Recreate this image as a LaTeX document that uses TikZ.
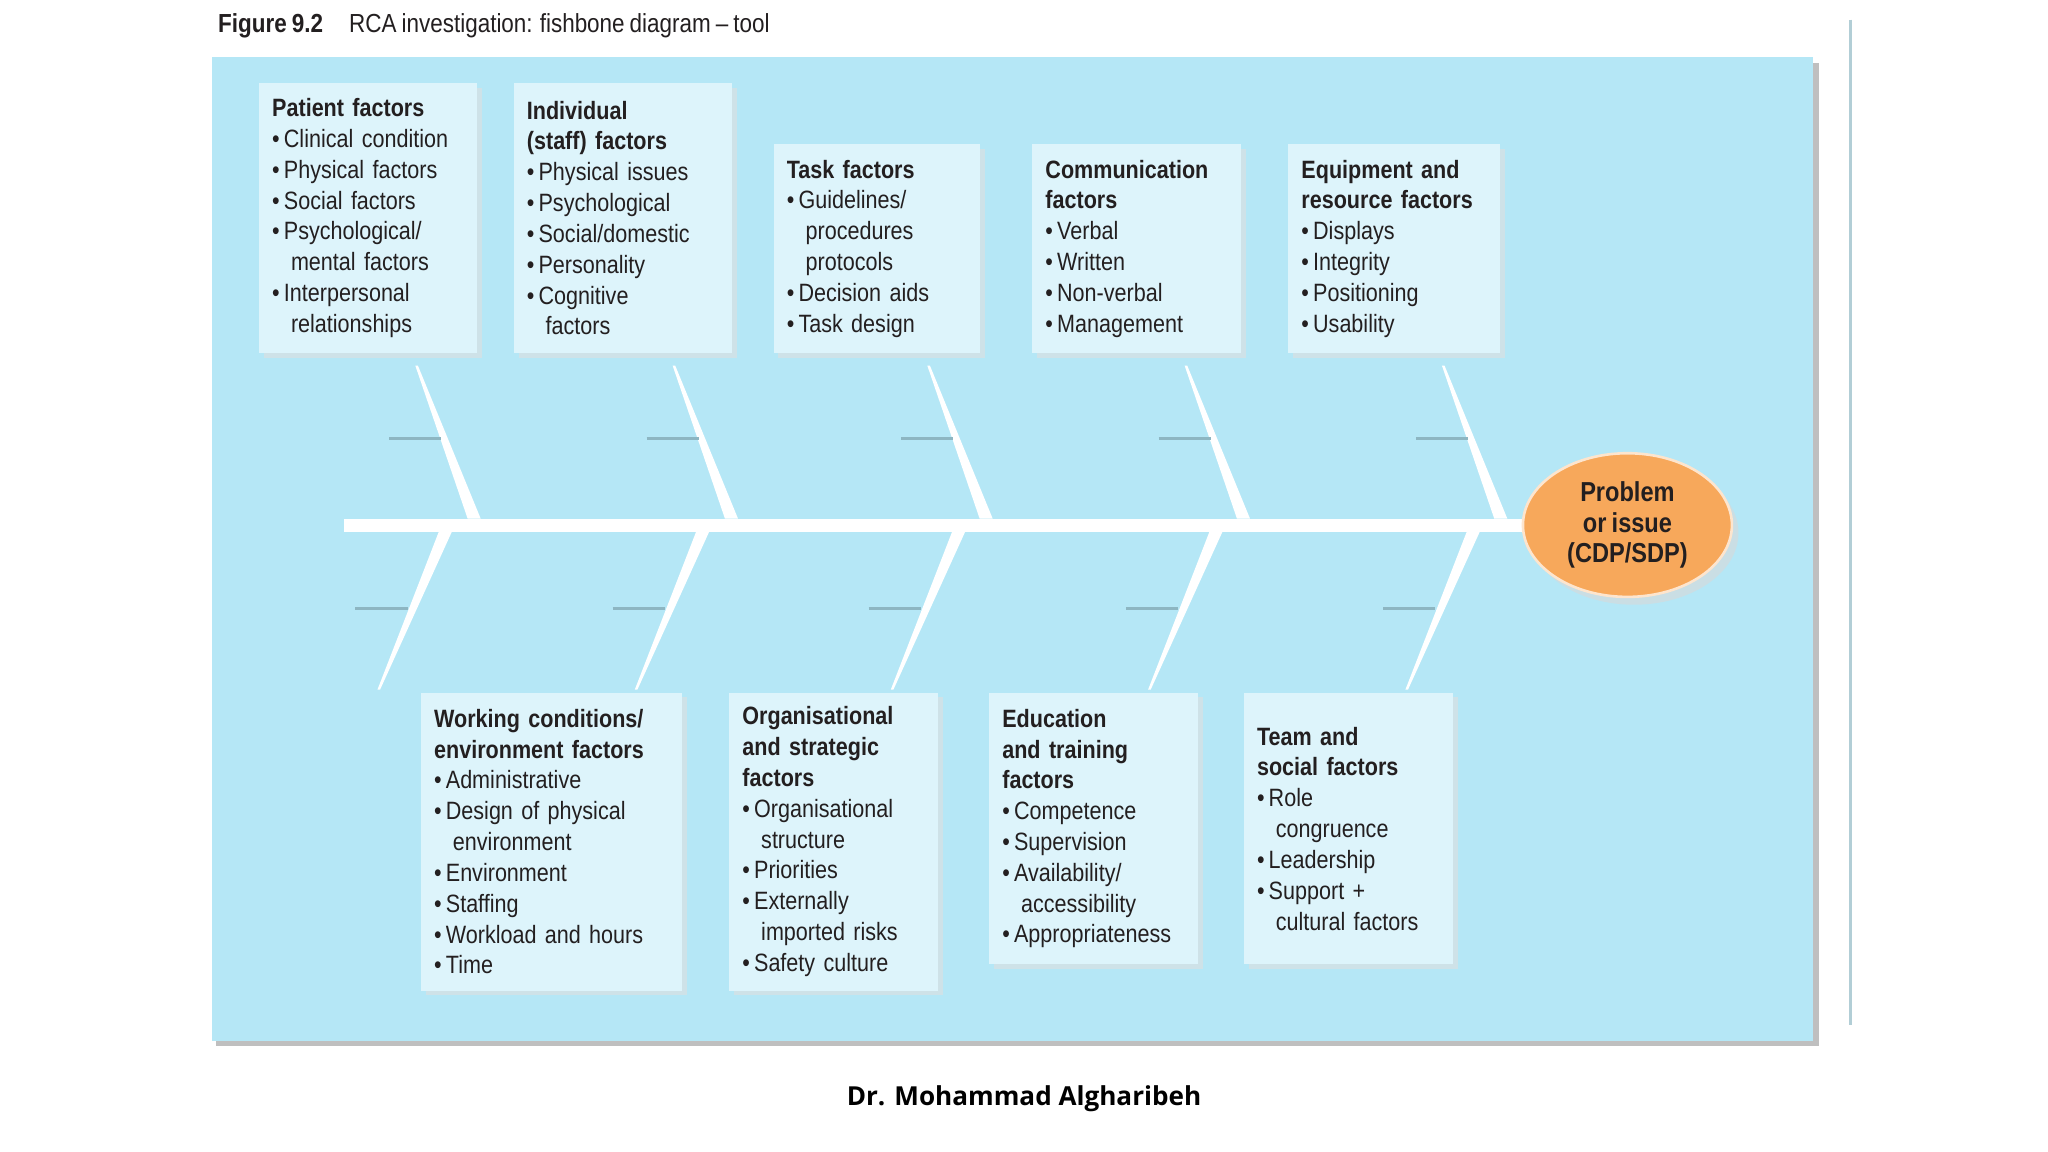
\documentclass[tikz,border=0pt]{standalone}
\usepackage{fontspec}
\usetikzlibrary{shapes.geometric}
\setmainfont{Liberation Sans}[FakeStretch=0.86,WordSpace=0.8]
\newfontfamily\capfont{Open Sans}
\definecolor{panelc}{HTML}{B5E7F6}
\definecolor{boxc}{HTML}{DDF4FB}
\definecolor{txtc}{HTML}{231F20}
\definecolor{orc}{HTML}{F7A85B}
\definecolor{subc}{HTML}{8DB6C2}
\newcommand\bl{\textbullet\,}
\newcommand\ind{\hspace*{0.75em}}
\tikzset{
  box/.style={fill=boxc, draw=none, anchor=north west, align=left, inner xsep=5pt, inner ysep=5pt,
    font=\fontsize{9.6}{11.8}\selectfont, text=txtc},
  subbone/.style={draw=subc, line width=1.2pt},
}
\begin{document}
\begin{tikzpicture}[x=0.5pt,y=-0.5pt]
\useasboundingbox (0,0) rectangle (1568,882);
\fill[white] (0,0) rectangle (1568,882);
% title
\node[anchor=west, text=txtc, font=\fontsize{10}{12}\selectfont] (title) at (160,20) {\textbf{Figure 9.2}\quad RCA investigation: fishbone diagram -- tool};
% panel
\fill[black!25] (165,48) rectangle (1393,801);
\fill[panelc] (162,44) rectangle (1388,797);
\draw[panelc!80!black!70, line width=1pt] (1417,15) -- (1417,785);
% spine
\fill[white] (263,397) rectangle (1170,407);
% top bones
\foreach \s in {0,197,392,589,786}{
  \fill[white] (318+\s,280) -- (320+\s,280) -- (368+\s,397) -- (358+\s,397) -- cycle;
  \draw[subbone] (298+\s,336) -- (338+\s,336);
}
\foreach \s in {0,197,393,590,787}{
  \fill[white] (336+\s,407) -- (346+\s,407) -- (291+\s,528) -- (289+\s,528) -- cycle;
  \draw[subbone] (272+\s,466) -- (312+\s,466);
}
% shadows of boxes
\foreach \a/\b/\c/\d in {198/63/365/270, 393/63/560/270, 592/110/750/270, 790/110/950/270, 986/110/1148/270,
  322/530/522/758, 558/530/718/758, 757/530/917/738, 952/530/1112/738}{
  \fill[black!12, opacity=0.6] (\a+4,\b+4) rectangle (\c+4,\d+4);
}
% boxes
\node[box, text width=73.5pt, minimum height=103.5pt] (b1) at (198,63) {\textbf{Patient factors}\\ \bl Clinical condition\\ \bl Physical factors\\ \bl Social factors\\ \bl Psychological/\\ \ind mental factors\\ \bl Interpersonal\\ \ind relationships};
\node[box, text width=73.5pt, minimum height=103.5pt] (b2) at (393,63) {\textbf{Individual}\\ \textbf{(staff) factors}\\ \bl Physical issues\\ \bl Psychological\\ \bl Social/domestic\\ \bl Personality\\ \bl Cognitive\\ \ind factors};
\node[box, text width=69pt, minimum height=80pt] (b3) at (592,110) {\textbf{Task factors}\\ \bl Guidelines/\\ \ind procedures\\ \ind protocols\\ \bl Decision aids\\ \bl Task design};
\node[box, text width=70pt, minimum height=80pt] (b4) at (790,110) {\textbf{Communication}\\ \textbf{factors}\\ \bl Verbal\\ \bl Written\\ \bl Non-verbal\\ \bl Management};
\node[box, text width=71pt, minimum height=80pt] (b5) at (986,110) {\textbf{Equipment and}\\ \textbf{resource factors}\\ \bl Displays\\ \bl Integrity\\ \bl Positioning\\ \bl Usability};
\node[box, text width=90pt, minimum height=114pt] (b6) at (322,530) {\textbf{Working conditions/}\\ \textbf{environment factors}\\ \bl Administrative\\ \bl Design of physical\\ \ind environment\\ \bl Environment\\ \bl Staffing\\ \bl Workload and hours\\ \bl Time};
\node[box, text width=70pt, minimum height=114pt] (b7) at (558,530) {\textbf{Organisational}\\ \textbf{and strategic}\\ \textbf{factors}\\ \bl Organisational\\ \ind structure\\ \bl Priorities\\ \bl Externally\\ \ind imported risks\\ \bl Safety culture};
\node[box, text width=70pt, minimum height=104pt] (b8) at (757,530) {\textbf{Education}\\ \textbf{and training}\\ \textbf{factors}\\ \bl Competence\\ \bl Supervision\\ \bl Availability/\\ \ind accessibility\\ \bl Appropriateness};
\node[box, text width=70pt, minimum height=104pt] (b9) at (952,530) {\textbf{Team and}\\ \textbf{social factors}\\ \bl Role\\ \ind congruence\\ \bl Leadership\\ \bl Support +\\ \ind cultural factors};
% head
\fill[black!15, opacity=0.6] (1251,408) ellipse [x radius=80, y radius=55];
\node[ellipse, fill=orc, draw=white!70!orc, line width=1pt, minimum width=80pt, minimum height=55pt, inner sep=0pt,
  align=center, text=txtc, font=\bfseries\fontsize{10.5}{11.8}\selectfont] (head) at (1246,402) {Problem\\or issue\\(CDP/SDP)};
% credit
\node[text=black, font=\capfont\bfseries\fontsize{10}{12}\selectfont] (credit) at (784,841) {Dr. Mohammad Algharibeh};
\end{tikzpicture}
\end{document}
